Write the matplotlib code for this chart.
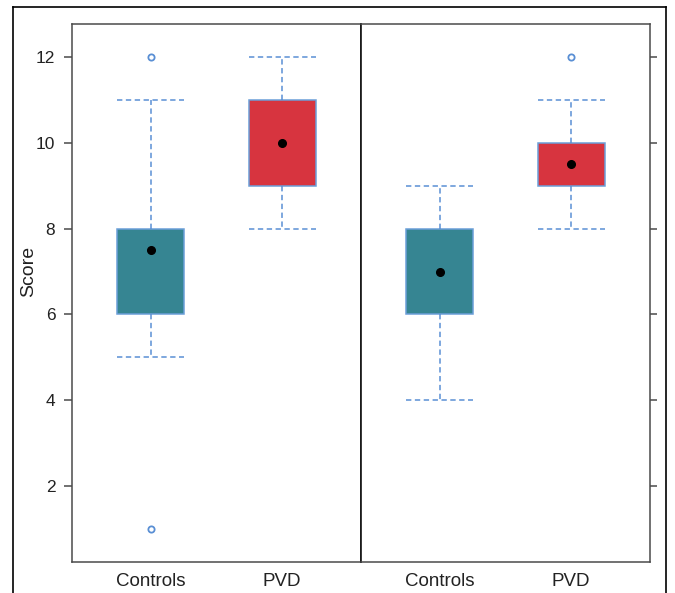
import matplotlib
matplotlib.use("Agg")
import matplotlib.pyplot as plt
from matplotlib.lines import Line2D

plt.rcParams["font.family"] = ["Liberation Sans", "DejaVu Sans"]

# ---------- data ----------
groups = ["Controls", "PVD"]

# left panel
left_q1 = [6, 9]
left_med = [7.5, 10]
left_q3 = [8, 11]
left_lo = [5, 8]
left_hi = [11, 12]
left_fliers = [[12, 1], []]

# right panel
right_q1 = [6, 9]
right_med = [7, 9.5]
right_q3 = [8, 10]
right_lo = [4, 8]
right_hi = [9, 11]
right_fliers = [[], [12]]

box_colors = ["#368592", "#d7343f"]
edge_blue = "#6b9fd8"
whisk_blue = "#5a8fd4"
frame_col = "#4a4a4a"

W, H = 675, 593
fig = plt.figure(figsize=(W / 100, H / 100), dpi=100)


def px_axes(x0, y0, x1, y1):
    return fig.add_axes([x0 / W, 1 - y1 / H, (x1 - x0) / W, (y1 - y0) / H])


ax1 = px_axes(72, 24, 361, 562)
ax2 = px_axes(361, 24, 650, 562)

dash = (0, (3.5, 2.3))


def draw_panel(ax, q1, med, q3, lo, hi, fliers):
    stats = []
    for i in range(len(groups)):
        stats.append(dict(q1=q1[i], med=med[i], q3=q3[i],
                          whislo=lo[i], whishi=hi[i], fliers=fliers[i]))
    bp = ax.bxp(stats, positions=[1, 2], widths=0.51, capwidths=0.51,
                patch_artist=True, showfliers=True,
                boxprops=dict(edgecolor=edge_blue, linewidth=1.1),
                whiskerprops=dict(color=whisk_blue, linestyle=dash, linewidth=1.1),
                capprops=dict(color=whisk_blue, linestyle=dash, linewidth=1.1),
                medianprops=dict(linewidth=0),
                flierprops=dict(marker="o", markersize=4.5, markerfacecolor="none",
                                markeredgecolor=whisk_blue, markeredgewidth=1.3))
    for patch, c in zip(bp["boxes"], box_colors):
        patch.set_facecolor(c)
    ax.plot([1, 2], med, "o", color="black", markersize=5.5, zorder=5)
    ax.set_xlim(0.4, 2.6)
    ax.set_ylim(0.23, 12.77)
    ax.set_xticks([1, 2])
    ax.set_xticklabels(groups, fontsize=13.5, color="#222222")
    ax.tick_params(axis="x", length=0, pad=8)
    ax.set_yticks([2, 4, 6, 8, 10, 12])
    for s in ax.spines.values():
        s.set_color(frame_col)
        s.set_linewidth(1.1)


draw_panel(ax1, left_q1, left_med, left_q3, left_lo, left_hi, left_fliers)
draw_panel(ax2, right_q1, right_med, right_q3, right_lo, right_hi, right_fliers)

ax1.tick_params(axis="y", direction="out", length=6, width=1.1, color=frame_col,
                labelsize=12.5, labelcolor="#222222", pad=6)
ax1.set_ylabel("Score", fontsize=14, color="#222222")
ax1.yaxis.set_label_coords(-0.121, 0.541)

ax2.yaxis.tick_right()
ax2.tick_params(axis="y", direction="out", length=5, width=1.1, color=frame_col,
                labelright=False, labelleft=False)
ax2.spines["left"].set_color("black")

# outer frame of the screenshot
for xs, ys in [([13, 13], [7, 593]), ([13, 666], [7, 7]), ([666, 666], [7, 593])]:
    fig.add_artist(Line2D([x / W for x in xs], [1 - y / H for y in ys],
                          color="black", linewidth=1.2))

fig.savefig("out.png", dpi=100)
